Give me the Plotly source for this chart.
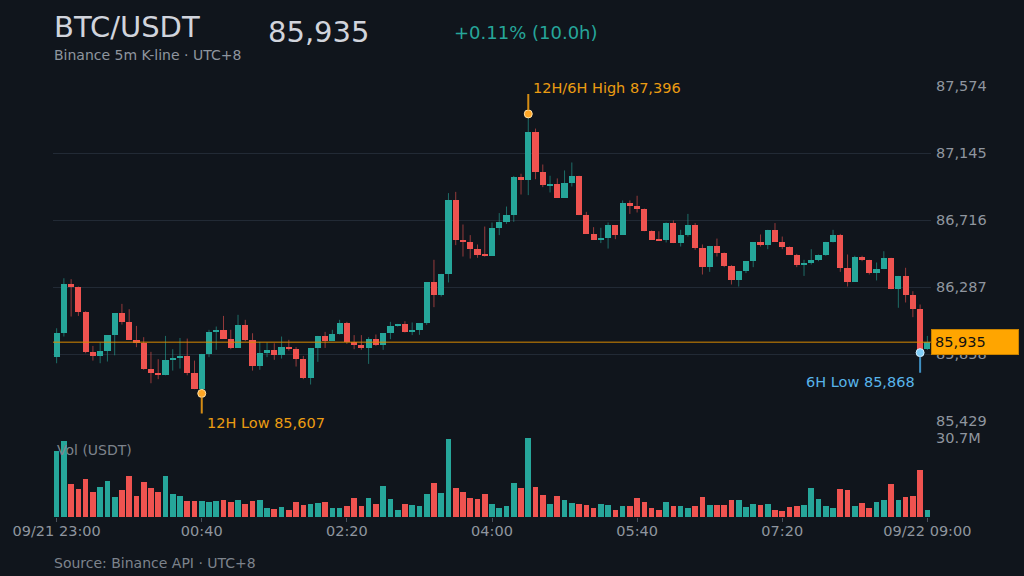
import pandas as pd
import plotly.graph_objects as go

# BTC/USDT 5m candles, 09/21 23:00 -> 09/22 09:00 (UTC+8)
times = pd.date_range("2025-09-21 23:00", periods=121, freq="5min")

opens = [85843, 85992, 86308, 86287, 86129, 85873, 85847, 85881, 85980, 86120,
         86065, 85950, 85928, 85766, 85736, 85723, 85822, 85834, 85847, 85736,
         85634, 85860, 86001, 86014, 85958, 85898, 86048, 85950, 85783, 85864,
         85886, 85856, 85903, 85890, 85826, 85706, 85898, 85975, 85945, 85988,
         86056, 85937, 85920, 85898, 85958, 85920, 85992, 86039, 86052, 85997,
         86010, 86056, 86317, 86236, 86372, 86842, 86586, 86573, 86534, 86496,
         86487, 86663, 86705, 86752, 86991, 86970, 87277, 87025, 86940, 86948,
         86859, 86953, 87000, 86748, 86628, 86590, 86601, 86684, 86624, 86825,
         86808, 86786, 86645, 86590, 86586, 86697, 86569, 86624, 86688, 86539,
         86415, 86551, 86505, 86423, 86334, 86389, 86453, 86573, 86556, 86650,
         86577, 86543, 86496, 86432, 86441, 86462, 86496, 86577, 86620, 86411,
         86321, 86479, 86458, 86377, 86406, 86475, 86274, 86359, 86236, 86150,
         85890]
highs = [86024, 86344, 86338, 86291, 86133, 85911, 85933, 85980, 86120, 86180,
         86146, 86039, 85967, 85873, 85826, 85975, 85890, 85962, 85958, 85817,
         85860, 86014, 86035, 86103, 86014, 86110, 86078, 85992, 85937, 85933,
         85928, 85971, 85950, 85903, 85847, 85898, 85975, 86001, 86014, 86078,
         86065, 85980, 85980, 85967, 85984, 85992, 86065, 86052, 86069, 86061,
         86056, 86317, 86462, 86372, 86889, 86897, 86688, 86620, 86560, 86675,
         86701, 86761, 86803, 86999, 87013, 87396, 87302, 87072, 87000, 86983,
         87034, 87085, 87000, 86769, 86671, 86667, 86701, 86684, 86842, 86842,
         86872, 86790, 86650, 86645, 86701, 86714, 86654, 86756, 86697, 86560,
         86551, 86598, 86509, 86428, 86389, 86453, 86573, 86624, 86654, 86697,
         86611, 86547, 86500, 86462, 86530, 86496, 86577, 86654, 86628, 86496,
         86488, 86488, 86462, 86445, 86517, 86475, 86359, 86411, 86261, 86176,
         85975]
lows = [85800, 85971, 86099, 86103, 85864, 85817, 85800, 85811, 85851, 86048,
        85950, 85903, 85758, 85672, 85698, 85723, 85753, 85766, 85723, 85634,
        85607, 85839, 85886, 85958, 85890, 85898, 85941, 85753, 85758, 85839,
        85822, 85830, 85881, 85779, 85698, 85664, 85809, 85898, 85945, 85984,
        85924, 85890, 85886, 85796, 85911, 85886, 85954, 86035, 85997, 85980,
        85982, 86046, 86159, 86227, 86317, 86556, 86483, 86470, 86475, 86483,
        86487, 86620, 86692, 86705, 86880, 86876, 86978, 86927, 86893, 86859,
        86859, 86931, 86748, 86628, 86590, 86569, 86534, 86594, 86624, 86756,
        86765, 86645, 86590, 86586, 86573, 86569, 86547, 86611, 86526, 86368,
        86385, 86483, 86415, 86304, 86291, 86377, 86415, 86547, 86530, 86577,
        86530, 86496, 86415, 86359, 86432, 86453, 86488, 86573, 86385, 86291,
        86321, 86453, 86368, 86330, 86402, 86274, 86155, 86189, 86095, 85868,
        85885]
closes = [85992, 86308, 86287, 86129, 85873, 85847, 85881, 85980, 86120, 86065,
          85950, 85928, 85766, 85736, 85723, 85822, 85834, 85847, 85736, 85634,
          85860, 86001, 86014, 85958, 85898, 86048, 85950, 85783, 85864, 85886,
          85856, 85903, 85890, 85826, 85706, 85898, 85975, 85945, 85988, 86056,
          85937, 85920, 85898, 85958, 85920, 85992, 86039, 86052, 85997, 86010,
          86056, 86317, 86236, 86372, 86842, 86586, 86573, 86534, 86496, 86487,
          86663, 86705, 86752, 86991, 86970, 87277, 87025, 86940, 86948, 86859,
          86953, 87000, 86748, 86628, 86590, 86601, 86684, 86624, 86825, 86808,
          86786, 86645, 86590, 86586, 86697, 86569, 86624, 86688, 86539, 86415,
          86551, 86505, 86423, 86334, 86389, 86453, 86573, 86556, 86650, 86577,
          86543, 86496, 86432, 86441, 86462, 86496, 86577, 86620, 86411, 86321,
          86479, 86458, 86377, 86406, 86475, 86274, 86359, 86236, 86150, 85890,
          85935]
# volume in million USDT
volumes_m = [25.8, 29.7, 12.7, 10.9, 14.8, 9.9, 11.7, 14.1, 7.8, 10.4,
             16.1, 8.3, 13.8, 11.2, 9.9, 15.9, 9.1, 8.3, 6.2, 6.2,
             6.2, 6.0, 6.2, 6.5, 6.0, 6.8, 4.9, 6.2, 6.5, 3.6,
             3.1, 3.9, 2.9, 6.0, 4.7, 5.2, 5.5, 5.7, 3.6, 3.4,
             4.2, 7.3, 4.4, 7.3, 5.2, 12.0, 7.0, 2.9, 4.9, 4.7,
             4.2, 9.1, 13.3, 9.4, 30.5, 11.2, 9.6, 7.5, 7.0, 8.8,
             5.2, 3.6, 4.4, 13.3, 11.4, 30.7, 11.7, 8.6, 4.9, 8.3,
             6.8, 5.5, 5.2, 4.7, 3.6, 4.9, 4.7, 2.9, 4.4, 4.4,
             7.3, 5.7, 3.4, 2.9, 6.0, 4.4, 4.2, 3.6, 4.2, 7.8,
             4.7, 4.7, 4.7, 6.5, 6.8, 3.9, 5.2, 4.7, 4.9, 2.6,
             2.3, 3.9, 4.4, 4.7, 11.2, 7.0, 4.2, 3.4, 10.9, 10.4,
             4.2, 5.5, 3.4, 6.0, 6.8, 13.0, 6.8, 7.8, 8.3, 18.2,
             2.9]

price_ticks = [85429, 85858, 86287, 86716, 87145, 87574]
tick_times = ["2025-09-21 23:00", "2025-09-22 00:40", "2025-09-22 02:20",
              "2025-09-22 04:00", "2025-09-22 05:40", "2025-09-22 07:20",
              "2025-09-22 09:00"]
tick_labels = ["09/21 23:00", "00:40", "02:20", "04:00", "05:40", "07:20",
               "09/22 09:00"]

UP, DOWN = "#26a69a", "#ef5350"
UP_WICK, DOWN_WICK = "rgba(38,166,154,0.6)", "rgba(239,83,80,0.6)"
BG = "#10151c"
GRID = "#222a35"
ORANGE = "#eb9c12"
BLUE = "#58b4ea"
GREY = "#8f959f"
FS = 14.5

# plot area in px (for placing header/footer text)
L, R, T, B, W, H = 53, 93, 86, 59, 1024, 576
PW, PH = W - L - R, H - T - B


def paper(xp, yp):
    return (xp - L) / PW, (H - B - yp) / PH


up = [c >= o for o, c in zip(opens, closes)]
colors = [UP if u else DOWN for u in up]
step = pd.Timedelta(minutes=5)
vols = [v * 1e6 for v in volumes_m]

fig = go.Figure()

# wicks
for flag, col in [(True, UP_WICK), (False, DOWN_WICK)]:
    wx, wy = [], []
    for t, hi, lo, u in zip(times, highs, lows, up):
        if u == flag:
            wx += [t, t, None]
            wy += [lo, hi, None]
    fig.add_trace(go.Scatter(x=wx, y=wy, mode="lines", line=dict(color=col, width=1),
                             hoverinfo="skip", showlegend=False))

# bodies
fig.add_trace(go.Bar(
    x=times, y=[max(abs(c - o), 7) for o, c in zip(opens, closes)],
    base=[min(o, c) for o, c in zip(opens, closes)],
    width=step.total_seconds() * 1000 * 0.85,
    marker=dict(color=colors, line=dict(width=0)), showlegend=False))

# volume
fig.add_trace(go.Bar(
    x=times, y=vols, yaxis="y2",
    width=step.total_seconds() * 1000 * 0.78,
    marker=dict(color=colors, line=dict(width=0)), showlegend=False))

# high / low markers
i_hi = highs.index(max(highs))
i_lo = lows.index(min(lows))
last6 = len(times) - 72
i_lo6 = last6 + lows[last6:].index(min(lows[last6:]))
hi_label = "12H/6H High" if i_hi >= last6 else "12H High"

fig.add_trace(go.Scatter(
    x=[times[i_hi], times[i_lo]], y=[highs[i_hi], lows[i_lo]], mode="markers",
    marker=dict(size=8, color="#ffa726", line=dict(color="#ffe0a8", width=1)),
    hoverinfo="skip", showlegend=False))
fig.add_trace(go.Scatter(
    x=[times[i_lo6]], y=[lows[i_lo6]], mode="markers",
    marker=dict(size=8, color="#7fcdf7", line=dict(color="#d6f0ff", width=1)),
    hoverinfo="skip", showlegend=False))

shapes = [
    dict(type="line", xref="x", yref="y", x0=times[i_hi], x1=times[i_hi],
         ysizemode="pixel", yanchor=highs[i_hi], y0=4, y1=20,
         line=dict(color="#d48c14", width=2)),
    dict(type="line", xref="x", yref="y", x0=times[i_lo], x1=times[i_lo],
         ysizemode="pixel", yanchor=lows[i_lo], y0=-4, y1=-20,
         line=dict(color="#d48c14", width=2)),
    dict(type="line", xref="x", yref="y", x0=times[i_lo6], x1=times[i_lo6],
         ysizemode="pixel", yanchor=lows[i_lo6], y0=-4, y1=-20,
         line=dict(color="#3f8fc2", width=2)),
    dict(type="line", xref="paper", yref="y", x0=0, x1=1, y0=closes[-1], y1=closes[-1],
         line=dict(color="#d98a00", width=1)),
]

ann = [
    dict(x=times[i_hi], y=highs[i_hi], xref="x", yref="y", xanchor="left", yanchor="middle",
         xshift=3, yshift=26, text=f"{hi_label} {highs[i_hi]:,}", showarrow=False,
         font=dict(color=ORANGE, size=FS)),
    dict(x=times[i_lo], y=lows[i_lo], xref="x", yref="y", xanchor="left", yanchor="middle",
         xshift=3, yshift=-30, text=f"12H Low {lows[i_lo]:,}", showarrow=False,
         font=dict(color=ORANGE, size=FS)),
    dict(x=times[i_lo6], y=lows[i_lo6], xref="x", yref="y", xanchor="right", yanchor="middle",
         xshift=-3, yshift=-29, text=f"6H Low {lows[i_lo6]:,}", showarrow=False,
         font=dict(color=BLUE, size=FS)),
    dict(x=1, y=closes[-1], xref="paper", yref="y", xanchor="left", yanchor="middle",
         text=f"{closes[-1]:,}", showarrow=False, align="left", width=80, height=18,
         bgcolor="#ffa500", bordercolor="#c98200", borderwidth=1, borderpad=3,
         font=dict(color="#111111", size=FS)),
]

pct = (closes[-1] / opens[0] - 1) * 100
hours = (times[-1] - times[0]).total_seconds() / 3600
header = [
    (52, 27, "BTC/USDT", 29, "#d1d4dc"),
    (266, 32, f"{closes[-1]:,}", 29, "#d1d4dc"),
    (452, 32, f"{pct:+.2f}% ({hours:.1f}h)", 18, UP if pct >= 0 else DOWN),
    (52, 55, "Binance 5m K-line · UTC+8", 14, GREY),
    (55, 450, "Vol (USDT)", 14, "#7d838c"),
    (52, 563, "Source: Binance API · UTC+8", 14, "#7d838c"),
]
for xp, yp, txt, size, col in header:
    xx, yy = paper(xp, yp)
    ann.append(dict(x=xx, y=yy, xref="paper", yref="paper", xanchor="left", yanchor="middle",
                    text=txt, showarrow=False, font=dict(color=col, size=size)))

price_bottom = (H - B - 421.3) / PH
vol_top = (H - B - 438) / PH

fig.update_layout(
    width=W, height=H,
    margin=dict(l=L, r=R, t=T, b=B),
    paper_bgcolor=BG, plot_bgcolor=BG,
    font=dict(family="DejaVu Sans", color=GREY, size=FS),
    barmode="overlay", bargap=0,
    showlegend=False,
    xaxis=dict(type="date", anchor="y2",
               range=[times[0] - step / 2, times[-1] + step / 2],
               tickvals=tick_times, ticktext=tick_labels,
               ticks="outside", ticklen=4, tickcolor="#4a515c",
               ticklabelstandoff=-3,
               showgrid=False, zeroline=False, showline=False,
               tickfont=dict(color=GREY, size=FS)),
    yaxis=dict(domain=[price_bottom, 1], side="right",
               range=[price_ticks[0] - 0.5, price_ticks[-1] + 0.5],
               tickvals=price_ticks, ticktext=[f"{v:,}" for v in price_ticks],
               showgrid=True, gridcolor=GRID, gridwidth=1, zeroline=False,
               ticks="", ticklabelstandoff=4, tickfont=dict(color=GREY, size=FS)),
    yaxis2=dict(domain=[0, vol_top], side="right", anchor="x",
                range=[0, max(vols) * 1.0005],
                tickvals=[max(vols)], ticktext=[f"{max(vols) / 1e6:.1f}M"],
                showgrid=True, gridcolor=GRID, gridwidth=1, zeroline=False,
                ticks="", ticklabelstandoff=4, tickfont=dict(color=GREY, size=FS)),
    shapes=shapes,
    annotations=ann,
)

# drop the page's default body margin so the figure sits at the window's top-left
fig.write_html("out.html", config={"displayModeBar": False},
               post_script="document.body.style.margin='0';document.body.style.background='%s';" % BG)
